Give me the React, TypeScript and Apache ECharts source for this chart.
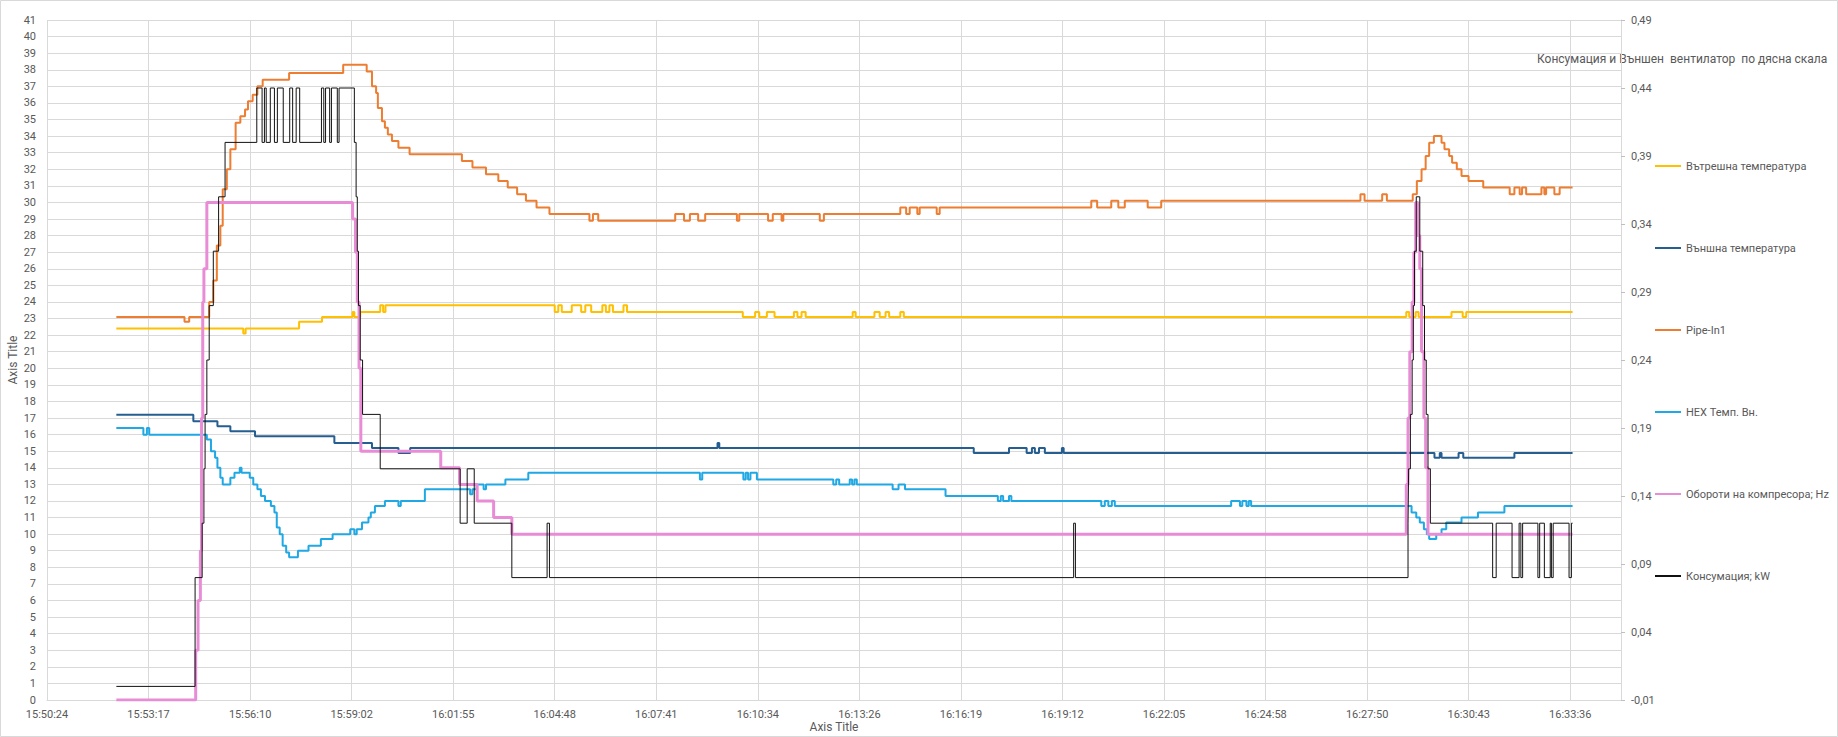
import React, { useEffect, useRef } from "react";
import * as echarts from "echarts";

// ---------- tick / axis labels ----------
const axisTitleX = "Axis Title";
const axisTitleY = "Axis Title";
const rightNote = "Консумация и Външен  вентилатор  по дясна скала";

// ---------- series names ----------
const seriesNames = [
  "Вътрешна температура",
  "Външна температура",
  "Pipe-In1",
  "HEX Темп. Вн.",
  "Обороти на компресора; Hz",
  "Консумация; kW",
];

// ---------- Вътрешна температура ----------
const innerTimes = [
  "15:52:22", "15:55:58", "15:56:02", "15:57:33", "15:58:12", "15:59:04", "15:59:07", "15:59:17",
  "15:59:51", "15:59:56", "16:00:00", "16:04:48", "16:04:54", "16:05:00", "16:05:17", "16:05:33",
  "16:05:40", "16:05:50", "16:06:09", "16:06:15", "16:06:21", "16:06:27", "16:06:45", "16:06:51",
  "16:10:08", "16:10:29", "16:10:36", "16:10:49", "16:11:02", "16:11:35", "16:11:41", "16:11:48",
  "16:11:55", "16:13:15", "16:13:20", "16:13:52", "16:14:01", "16:14:11", "16:14:17", "16:14:36",
  "16:14:42", "16:28:57", "16:29:02", "16:29:13", "16:29:18", "16:30:14", "16:30:33", "16:30:39",
  "16:33:40",
];
const innerValues = [
  22.4, 22.1, 22.4, 22.8, 23.1, 23.4, 23.1, 23.4,
  23.8, 23.4, 23.8, 23.4, 23.8, 23.4, 23.8, 23.4,
  23.8, 23.4, 23.8, 23.4, 23.8, 23.4, 23.8, 23.4,
  23.1, 23.4, 23.1, 23.4, 23.1, 23.4, 23.1, 23.4,
  23.1, 23.4, 23.1, 23.4, 23.1, 23.4, 23.1, 23.4,
  23.1, 23.4, 23.1, 23.4, 23.1, 23.4, 23.1, 23.4,
  23.4,
];

// ---------- Външна температура ----------
const outerTimes = [
  "15:52:22", "15:54:33", "15:55:14", "15:55:36", "15:56:18", "15:58:33", "15:59:37", "16:00:22",
  "16:00:42", "16:09:25", "16:09:28", "16:16:41", "16:17:41", "16:18:11", "16:18:20", "16:18:25",
  "16:18:32", "16:18:42", "16:19:11", "16:19:14", "16:29:45", "16:29:54", "16:29:57", "16:30:26",
  "16:30:34", "16:32:01", "16:33:40",
];
const outerValues = [
  17.2, 16.8, 16.5, 16.2, 15.9, 15.5, 15.2, 14.9,
  15.2, 15.5, 15.2, 14.9, 15.2, 14.9, 15.2, 14.9,
  15.2, 14.9, 15.2, 14.9, 14.6, 14.9, 14.6, 14.9,
  14.6, 14.9, 14.9,
];

// ---------- Pipe-In1 ----------
const pipeTimes = [
  "15:52:22", "15:54:18", "15:54:26", "15:55:00", "15:55:07", "15:55:13", "15:55:19", "15:55:23",
  "15:55:30", "15:55:36", "15:55:45", "15:55:53", "15:56:01", "15:56:06", "15:56:14", "15:56:22",
  "15:56:31", "15:57:16", "15:58:48", "15:59:28", "15:59:37", "15:59:44", "15:59:47", "15:59:54",
  "15:59:59", "16:00:04", "16:00:11", "16:00:22", "16:00:41", "16:02:10", "16:02:28", "16:02:51",
  "16:03:12", "16:03:28", "16:03:44", "16:03:59", "16:04:17", "16:04:39", "16:05:47", "16:05:53",
  "16:06:02", "16:08:13", "16:08:28", "16:08:38", "16:08:52", "16:09:04", "16:09:58", "16:10:02",
  "16:10:51", "16:10:59", "16:11:14", "16:11:17", "16:12:19", "16:12:26", "16:14:36", "16:14:46",
  "16:14:52", "16:15:05", "16:15:09", "16:15:38", "16:15:43", "16:20:01", "16:20:11", "16:20:35",
  "16:20:47", "16:20:58", "16:21:37", "16:22:00", "16:27:39", "16:27:46", "16:28:16", "16:28:24",
  "16:29:08", "16:29:15", "16:29:23", "16:29:30", "16:29:36", "16:29:44", "16:29:57", "16:30:02",
  "16:30:10", "16:30:15", "16:30:23", "16:30:31", "16:30:43", "16:31:08", "16:31:53", "16:32:01",
  "16:32:10", "16:32:14", "16:32:21", "16:32:47", "16:32:52", "16:32:55", "16:33:09", "16:33:18",
  "16:33:40",
];
const pipeValues = [
  23.1, 22.8, 23.1, 24.0, 25.3, 27.4, 28.6, 30.8,
  32.0, 33.2, 34.8, 35.2, 35.6, 36.1, 36.5, 37.0,
  37.4, 37.8, 38.3, 37.9, 37.0, 36.6, 35.7, 34.9,
  34.5, 34.1, 33.7, 33.3, 32.9, 32.5, 32.1, 31.7,
  31.3, 30.9, 30.5, 30.1, 29.7, 29.3, 28.9, 29.3,
  28.9, 29.3, 28.9, 29.3, 28.9, 29.3, 28.9, 29.3,
  28.9, 29.3, 28.9, 29.3, 28.9, 29.3, 29.7, 29.3,
  29.7, 29.3, 29.7, 29.3, 29.7, 30.1, 29.7, 30.1,
  29.7, 30.1, 29.7, 30.1, 30.5, 30.1, 30.5, 30.1,
  30.5, 31.3, 32.0, 32.8, 33.6, 34.0, 33.6, 33.2,
  32.8, 32.4, 32.0, 31.6, 31.3, 30.9, 30.5, 30.9,
  30.5, 30.9, 30.5, 30.9, 30.5, 30.9, 30.5, 30.9,
  30.9,
];

// ---------- HEX Темп. Вн. ----------
const hexTimes = [
  "15:52:22", "15:53:08", "15:53:14", "15:53:18", "15:54:56", "15:55:03", "15:55:10", "15:55:14",
  "15:55:19", "15:55:23", "15:55:36", "15:55:43", "15:55:52", "15:55:55", "15:56:09", "15:56:15",
  "15:56:22", "15:56:28", "15:56:35", "15:56:45", "15:56:51", "15:56:55", "15:57:00", "15:57:05",
  "15:57:11", "15:57:16", "15:57:31", "15:57:49", "15:58:10", "15:58:30", "15:59:00", "15:59:07",
  "15:59:11", "15:59:20", "15:59:31", "15:59:35", "15:59:42", "15:59:59", "16:00:22", "16:00:26",
  "16:01:07", "16:02:24", "16:02:28", "16:02:35", "16:02:47", "16:02:51", "16:03:24", "16:04:03",
  "16:08:55", "16:08:59", "16:10:09", "16:10:13", "16:10:17", "16:10:21", "16:10:32", "16:12:42",
  "16:12:47", "16:12:52", "16:13:10", "16:13:14", "16:13:18", "16:13:22", "16:14:23", "16:14:33",
  "16:14:44", "16:15:53", "16:17:22", "16:17:27", "16:17:31", "16:17:41", "16:17:45", "16:20:18",
  "16:20:24", "16:20:30", "16:20:36", "16:20:41", "16:23:59", "16:24:14", "16:24:18", "16:24:25",
  "16:24:29", "16:24:33", "16:29:06", "16:29:14", "16:29:20", "16:29:27", "16:29:32", "16:29:36",
  "16:29:48", "16:29:57", "16:30:05", "16:30:31", "16:30:59", "16:31:44", "16:33:40",
];
const hexValues = [
  16.4, 16.0, 16.4, 16.0, 15.7, 15.0, 14.6, 14.0,
  13.4, 13.0, 13.4, 13.7, 14.0, 13.7, 13.4, 13.0,
  12.7, 12.3, 12.0, 11.7, 11.3, 10.4, 10.0, 9.3,
  8.9, 8.6, 9.0, 9.3, 9.7, 10.0, 10.3, 10.0,
  10.3, 10.7, 11.0, 11.3, 11.7, 12.0, 11.7, 12.0,
  12.7, 12.4, 12.7, 13.0, 12.7, 13.0, 13.3, 13.7,
  13.3, 13.7, 13.3, 13.7, 13.3, 13.7, 13.3, 13.0,
  13.3, 13.0, 13.3, 13.0, 13.3, 13.0, 12.7, 13.0,
  12.7, 12.3, 12.0, 12.3, 12.0, 12.3, 12.0, 11.7,
  12.0, 11.7, 12.0, 11.7, 12.0, 11.7, 12.0, 11.7,
  12.0, 11.7, 11.3, 11.0, 10.7, 10.3, 10.0, 9.7,
  10.0, 10.3, 10.7, 11.0, 11.3, 11.7, 11.7,
];

// ---------- Обороти на компресора; Hz ----------
const hzTimes = [
  "15:52:22", "15:54:37", "15:54:41", "15:54:45", "15:54:47", "15:54:49", "15:54:51", "15:54:56",
  "15:59:04", "15:59:09", "15:59:12", "15:59:15", "15:59:18", "16:01:34", "16:02:06", "16:02:36",
  "16:03:04", "16:03:35", "16:28:57", "16:29:00", "16:29:03", "16:29:07", "16:29:10", "16:29:13",
  "16:29:17", "16:29:20", "16:29:23", "16:29:27", "16:29:30", "16:29:34", "16:33:40",
];
const hzValues = [
  0, 3, 6, 9, 17, 24, 26, 30,
  29, 27, 24, 20, 15, 14, 13, 12,
  11, 10, 13, 17, 21, 24, 27, 30,
  28, 26, 21, 17, 14, 10, 10,
];

// ---------- Консумация; kW (right axis) ----------
const kwTimes = [
  "15:52:22", "15:54:36", "15:54:48", "15:54:51", "15:54:53", "15:54:56", "15:55:00", "15:55:07",
  "15:55:16", "15:55:27", "15:56:21", "15:56:30", "15:56:34", "15:56:37", "15:56:44", "15:56:51",
  "15:56:56", "15:57:06", "15:57:17", "15:57:22", "15:57:28", "15:57:34", "15:58:11", "15:58:15",
  "15:58:18", "15:58:25", "15:58:28", "15:58:38", "15:58:41", "15:59:07", "15:59:10", "15:59:12",
  "15:59:14", "15:59:17", "15:59:21", "15:59:51", "16:02:07", "16:02:19", "16:02:31", "16:03:35",
  "16:04:35", "16:04:39", "16:19:31", "16:19:34", "16:29:00", "16:29:01", "16:29:04", "16:29:07",
  "16:29:09", "16:29:11", "16:29:14", "16:29:20", "16:29:25", "16:29:28", "16:29:31", "16:29:34",
  "16:29:38", "16:31:24", "16:31:30", "16:31:57", "16:32:09", "16:32:12", "16:32:15", "16:32:41",
  "16:32:44", "16:32:52", "16:33:02", "16:33:04", "16:33:07", "16:33:34", "16:33:38", "16:33:40",
];
const kwValues = [
  0.0, 0.08, 0.12, 0.16, 0.2, 0.24, 0.28, 0.32,
  0.36, 0.4, 0.44, 0.4, 0.44, 0.4, 0.44, 0.4,
  0.44, 0.4, 0.44, 0.4, 0.44, 0.4, 0.44, 0.4,
  0.44, 0.4, 0.44, 0.4, 0.44, 0.4, 0.36, 0.32,
  0.28, 0.24, 0.2, 0.16, 0.12, 0.16, 0.12, 0.08,
  0.12, 0.08, 0.12, 0.08, 0.12, 0.16, 0.2, 0.24,
  0.28, 0.32, 0.36, 0.32, 0.28, 0.24, 0.2, 0.16,
  0.12, 0.08, 0.12, 0.08, 0.12, 0.08, 0.12, 0.08,
  0.12, 0.08, 0.12, 0.08, 0.12, 0.08, 0.12, 0.12,
];

// ---------- axis ranges (Excel date axis: 0.66 .. 0.691 day, unit 0.002 day) ----------
const xMinSec = 57024; // 15:50:24
const xMaxSec = 59702.4; // 16:35:02.4
const xStepSec = 172.8;
const leftMin = 0;
const leftMax = 41;
const rightMin = -0.01;
const rightMax = 0.49;
const rightStep = 0.05;

const toSec = (s: string) => {
  const [h, m, sec] = s.split(":").map(Number);
  return h * 3600 + m * 60 + sec;
};
const pad = (n: number) => (n < 10 ? "0" + n : "" + n);
const fmtTime = (v: number) => {
  const t = Math.round(v);
  const h = Math.floor(t / 3600);
  const m = Math.floor((t % 3600) / 60);
  const s = t % 60;
  return `${h}:${pad(m)}:${pad(s)}`;
};
const pairs = (times: string[], values: number[]) => times.map((t, i) => [toSec(t), values[i]]);

const FONT = "Roboto";
const LABEL = "#595959";
const GRID = "#d9d9d9";

export default function App() {
  const ref = useRef<HTMLDivElement>(null);
  useEffect(() => {
    if (!ref.current) return;
    const chart = echarts.init(ref.current, undefined, { renderer: "svg" });
    const mk = (i: number, times: string[], values: number[], color: string, width: number, yAxisIndex = 0) => ({
      name: seriesNames[i],
      type: "line",
      yAxisIndex,
      step: "end",
      symbol: "none",
      showSymbol: false,
      silent: true,
      lineStyle: { color, width },
      itemStyle: { color },
      emphasis: { disabled: true },
      data: pairs(times, values),
    });
    chart.setOption({
      animation: false,
      backgroundColor: "#ffffff",
      textStyle: { fontFamily: FONT },
      grid: { left: 47, right: 217, top: 20, bottom: 37, containLabel: false, outerBoundsMode: "none" },
      legend: {
        orient: "vertical",
        left: 1649,
        top: 154,
        itemWidth: 26,
        itemHeight: 14,
        itemGap: 68,
        selectedMode: false,
        itemStyle: { opacity: 0 },
        textStyle: { color: LABEL, fontSize: 11, fontFamily: FONT, lineHeight: 14 },
        data: seriesNames,
      },
      xAxis: {
        type: "value",
        min: xMinSec,
        max: xMaxSec,
        interval: xStepSec,
        axisLine: { show: true, lineStyle: { color: GRID } },
        axisTick: { show: false },
        axisLabel: { color: LABEL, fontSize: 11, fontFamily: FONT, margin: 9, formatter: fmtTime, showMaxLabel: false },
        splitLine: { show: true, lineStyle: { color: GRID, width: 1 } },
      },
      yAxis: [
        {
          type: "value",
          position: "left",
          min: leftMin,
          max: leftMax,
          interval: 1,
          axisLine: { show: false },
          axisTick: { show: false },
          axisLabel: { color: LABEL, fontSize: 11, fontFamily: FONT, margin: 11 },
          splitLine: { show: true, lineStyle: { color: GRID, width: 1 } },
        },
        {
          type: "value",
          position: "right",
          min: rightMin,
          max: rightMax,
          interval: rightStep,
          axisLine: { show: true, lineStyle: { color: GRID } },
          axisTick: { show: true, length: 4, lineStyle: { color: "#bfbfbf" } },
          axisLabel: {
            color: LABEL,
            fontSize: 11,
            fontFamily: FONT,
            margin: 10,
            formatter: (v: number) => v.toFixed(2).replace(".", ","),
          },
          splitLine: { show: false },
        },
      ],
      graphic: {
        elements: [
          {
            type: "rect",
            shape: { x: 0.5, y: 0.5, width: 1837, height: 736 },
            style: { fill: "none", stroke: GRID, lineWidth: 1 },
            silent: true,
          },
          {
            type: "text",
            x: 13,
            y: 360,
            rotation: Math.PI / 2,
            style: { text: axisTitleY, fill: LABEL, fontSize: 12, fontFamily: FONT, align: "center", verticalAlign: "middle" },
            silent: true,
          },
          {
            type: "text",
            x: 834,
            y: 727,
            style: { text: axisTitleX, fill: LABEL, fontSize: 12, fontFamily: FONT, align: "center", verticalAlign: "middle" },
            silent: true,
          },
          {
            type: "text",
            x: 1537,
            y: 59,
            style: { text: rightNote, fill: LABEL, fontSize: 12, fontFamily: FONT, align: "left", verticalAlign: "middle" },
            silent: true,
          },
        ],
      },
      series: [
        mk(0, innerTimes, innerValues, "#FFC000", 2),
        mk(1, outerTimes, outerValues, "#255E91", 2),
        mk(2, pipeTimes, pipeValues, "#ED7D31", 2),
        mk(3, hexTimes, hexValues, "#1FA8E3", 2),
        mk(4, hzTimes, hzValues, "#E98CD6", 3),
        mk(5, kwTimes, kwValues, "#111111", 1, 1),
      ],
    });
    return () => chart.dispose();
  }, []);
  return <div ref={ref} style={{ position: "absolute", left: 0, top: 0, width: 1838, height: 737 }} />;
}
